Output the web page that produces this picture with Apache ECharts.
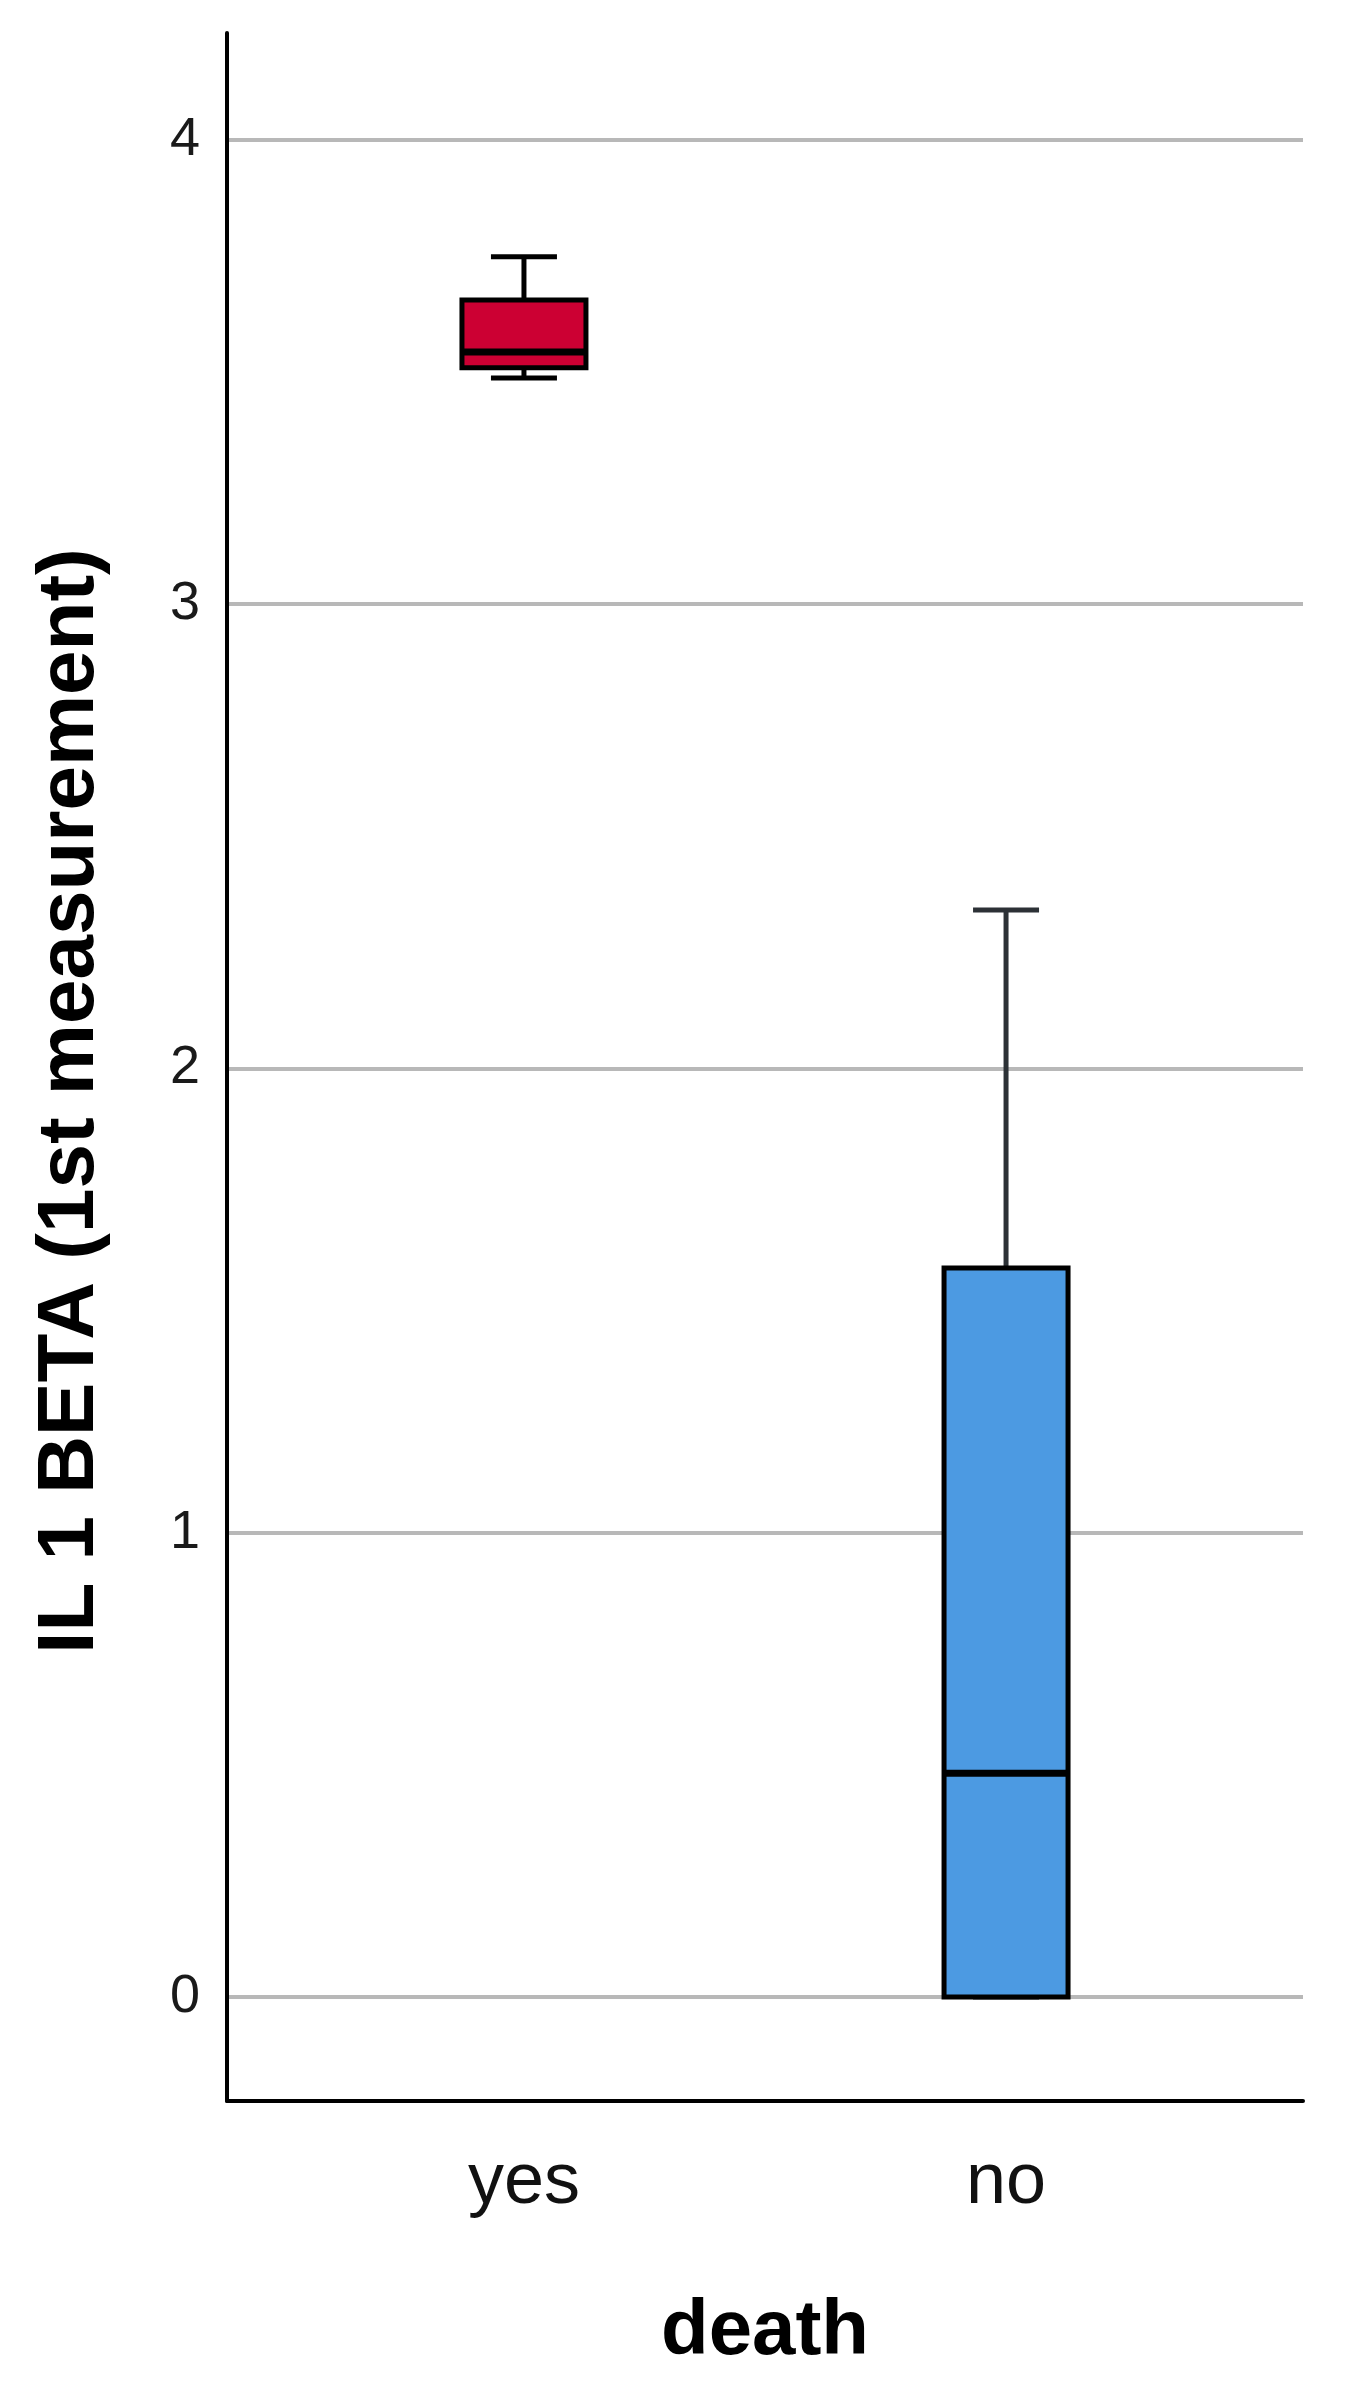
<!DOCTYPE html>
<html>
<head>
<meta charset="utf-8">
<title>IL 1 BETA boxplot</title>
<script src="https://cdn.jsdelivr.net/npm/echarts@6/dist/echarts.min.js"></script>
<style>
  html, body { margin: 0; padding: 0; background: #fff; }
  #chart { width: 1345px; height: 2393px; }
</style>
</head>
<body>
<div id="chart"></div>
<script>
// categories on the x axis
const categories = ['yes', 'no']
// box statistics, one entry per category
const mins = [3.487, 0]
const q1s = [3.509, 0]
const medians = [3.543, 0.482]
const q3s = [3.655, 1.570]
const maxs = [3.748, 2.341]
// y tick labels
const yTicks = [0, 1, 2, 3, 4]

const boxColors = ['#cc0033', '#4c9ae2']
const whiskerColors = ['#000000', '#2c3136']

const seriesData = categories.map((c, i) => [i, mins[i], q1s[i], medians[i], q3s[i], maxs[i]])

function renderBox(params, api) {
  const x = api.value(0)
  const pMin = api.coord([x, api.value(1)])
  const pQ1 = api.coord([x, api.value(2)])
  const pMed = api.coord([x, api.value(3)])
  const pQ3 = api.coord([x, api.value(4)])
  const pMax = api.coord([x, api.value(5)])
  const cx = pQ1[0]
  const half = 62
  const cap = 33
  const wc = whiskerColors[params.dataIndex]
  const lineStyle = { stroke: wc, lineWidth: 5 }
  return {
    type: 'group',
    children: [
      { type: 'line', shape: { x1: cx, y1: pMax[1], x2: cx, y2: pQ3[1] }, style: lineStyle },
      { type: 'line', shape: { x1: cx - cap, y1: pMax[1], x2: cx + cap, y2: pMax[1] }, style: lineStyle },
      { type: 'line', shape: { x1: cx, y1: pMin[1], x2: cx, y2: pQ1[1] }, style: lineStyle },
      { type: 'line', shape: { x1: cx - cap, y1: pMin[1], x2: cx + cap, y2: pMin[1] }, style: lineStyle },
      {
        type: 'rect',
        shape: { x: cx - half, y: pQ3[1], width: half * 2, height: pQ1[1] - pQ3[1] },
        style: { fill: boxColors[params.dataIndex], stroke: '#000', lineWidth: 5 }
      },
      { type: 'line', shape: { x1: cx - half, y1: pMed[1], x2: cx + half, y2: pMed[1] }, style: { stroke: '#000', lineWidth: 7 } }
    ]
  }
}

const myChart = echarts.init(document.getElementById('chart'))
myChart.setOption({
  animation: false,
  backgroundColor: '#fff',
  textStyle: { fontFamily: 'Liberation Sans, Arial, sans-serif' },
  grid: { left: 227, right: 42, top: 33, bottom: 292 },
  xAxis: {
    type: 'value',
    min: -0.616,
    max: 1.616,
    axisLine: { onZero: false, lineStyle: { color: '#000', width: 4 } },
    axisTick: { show: false },
    splitLine: { show: false },
    axisLabel: {
      customValues: [0, 1],
      formatter: v => categories[v],
      fontSize: 72,
      color: '#111',
      margin: 46
    },
    name: 'death',
    nameLocation: 'middle',
    nameGap: 192,
    nameTextStyle: { fontSize: 78, fontWeight: 'bold', color: '#000' }
  },
  yAxis: {
    type: 'value',
    min: -0.224,
    max: 4.23,
    axisLine: { show: true, onZero: false, lineStyle: { color: '#000', width: 4 } },
    axisTick: { show: false, customValues: yTicks },
    splitLine: { show: true, lineStyle: { color: '#b8b8b8', width: 4 } },
    axisLabel: {
      customValues: yTicks,
      fontSize: 54,
      color: '#1a1a1a',
      margin: 27
    }
  },
  graphic: [
    {
      type: 'text',
      x: 71,
      y: 1101,
      rotation: Math.PI / 2,
      style: {
        text: 'IL 1 BETA (1st measurement)',
        font: 'bold 80px "Liberation Sans", Arial, sans-serif',
        fill: '#000',
        textAlign: 'center',
        textVerticalAlign: 'middle'
      }
    }
  ],
  series: [
    {
      type: 'custom',
      renderItem: renderBox,
      data: seriesData,
      encode: { x: 0, y: [1, 2, 3, 4, 5] },
      z: 5
    }
  ]
})
</script>
</body>
</html>
